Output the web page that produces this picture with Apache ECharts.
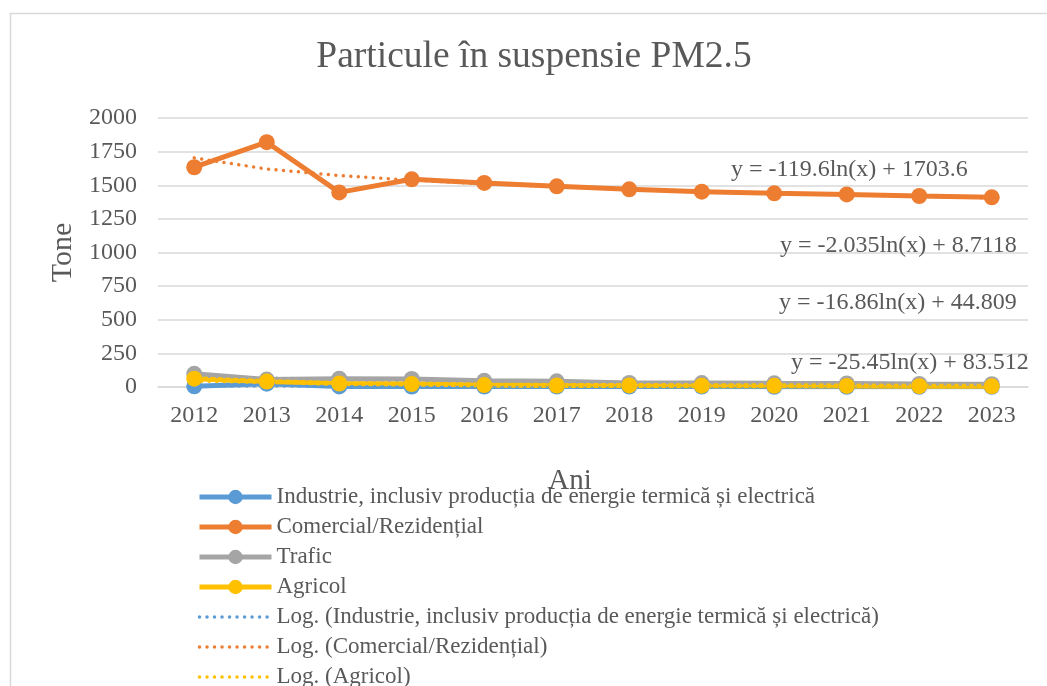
<!DOCTYPE html>
<html>
<head>
<meta charset="utf-8">
<script src="https://cdn.jsdelivr.net/npm/echarts@6/dist/echarts.min.js"></script>
<style>
  html, body { margin: 0; padding: 0; background: #ffffff; }
  #chart { width: 1047px; height: 686px; }
</style>
</head>
<body>
<div id="chart"></div>
<script>
// Emisii de particule PM2.5 pe sectoare (tone/an)
const years = ['2012', '2013', '2014', '2015', '2016', '2017', '2018', '2019', '2020', '2021', '2022', '2023'];
const industrie = [5, 25, 4, 3, 3, 3, 3, 3, 2, 2, 2, 2];
const comercial = [1634, 1820, 1447, 1544, 1517, 1492, 1470, 1452, 1440, 1432, 1420, 1410];
const trafic = [98, 55, 62, 60, 46, 42, 30, 29, 27, 26, 23, 21];
const agricol = [62, 40, 26, 22, 14, 11, 12, 10, 9, 8, 6, 5];

const seriesNames = [
  'Industrie, inclusiv producția de energie termică și electrică',
  'Comercial/Rezidențial',
  'Trafic',
  'Agricol'
];
const seriesColors = ['#5B9BD5', '#ED7D31', '#A5A5A5', '#FFC000'];

// Tendințe logaritmice y = a·ln(x) + b  (x = 1 pentru 2012)
const trendSlope = [-2.035, -119.6, -25.45, -16.86];
const trendIntercept = [8.7118, 1703.6, 83.512, 44.809];
const trendDecimals = [[3, 4], [1, 1], [2, 3], [2, 3]];
const trendLegendOrder = [0, 1, 3, 2];

const FONT = '"Liberation Serif", "Times New Roman", serif';
const TEXT = '#595959';

const values = [industrie, comercial, trafic, agricol];

function trendData(i) {
  return years.map((_, k) => trendIntercept[i] + trendSlope[i] * Math.log(k + 1));
}
function trendLabel(i) {
  const [da, db] = trendDecimals[i];
  return 'y = ' + trendSlope[i].toFixed(da) + 'ln(x) + ' + trendIntercept[i].toFixed(db);
}

const series = [];
const legendData = [];
values.forEach((arr, i) => {
  series.push({
    name: seriesNames[i],
    type: 'line',
    data: arr,
    symbol: 'circle',
    symbolSize: 16,
    color: seriesColors[i],
    lineStyle: { width: 5, color: seriesColors[i] },
    itemStyle: { color: seriesColors[i] },
    emphasis: { disabled: true },
    animation: false
  });
  legendData.push({
    name: seriesNames[i],
    itemStyle: { color: seriesColors[i] },
    lineStyle: { color: seriesColors[i], width: 5 }
  });
});
trendLegendOrder.forEach(i => {
  const name = 'Log. (' + seriesNames[i] + ')';
  series.push({
    name: name,
    type: 'line',
    data: trendData(i),
    symbol: 'none',
    color: seriesColors[i],
    lineStyle: { width: 3.5, color: seriesColors[i], type: [0.01, 7.5], cap: 'round' },
    emphasis: { disabled: true },
    animation: false,
    z: 3
  });
  legendData.push({
    name: name,
    itemStyle: { opacity: 0 },
    lineStyle: { color: seriesColors[i], width: 3.5, type: [0.01, 7.5], cap: 'round' }
  });
});

// Poziția etichetelor cu ecuații
const eqPos = [
  { i: 1, x: 731, y: 170 },
  { i: 0, x: 780, y: 246 },
  { i: 3, x: 779, y: 303 },
  { i: 2, x: 791, y: 363 }
];

const chart = echarts.init(document.getElementById('chart'), null, { renderer: 'canvas' });
chart.setOption({
  backgroundColor: '#ffffff',
  animation: false,
  title: {
    text: 'Particule în suspensie PM2.5',
    left: 529,
    top: 33,
    textAlign: 'center',
    textStyle: { fontFamily: FONT, fontSize: 37.5, fontWeight: 'normal', color: TEXT }
  },
  grid: { left: 158, right: 19, top: 118, bottom: 299, containLabel: false },
  xAxis: {
    type: 'category',
    data: years,
    boundaryGap: true,
    name: 'Ani',
    nameLocation: 'middle',
    nameGap: 80,
    nameTextStyle: { fontFamily: FONT, fontSize: 29, color: TEXT, padding: [0, 46, 0, 0] },
    axisLine: { lineStyle: { color: '#D9D9D9', width: 1.5 } },
    axisTick: { show: false },
    axisLabel: { fontFamily: FONT, fontSize: 24, color: TEXT, margin: 17 },
    splitLine: { show: false }
  },
  yAxis: {
    type: 'value',
    min: 0,
    max: 2000,
    interval: 250,
    name: 'Tone',
    nameLocation: 'middle',
    nameGap: 80,
    nameTextStyle: { fontFamily: FONT, fontSize: 30, color: TEXT },
    axisLine: { show: false },
    axisTick: { show: false },
    axisLabel: { fontFamily: FONT, fontSize: 24, color: TEXT, margin: 21, formatter: v => String(v) },
    splitLine: { lineStyle: { color: '#D9D9D9', width: 1.5 } }
  },
  legend: {
    orient: 'vertical',
    left: 197,
    top: 485,
    height: 300,
    padding: 0,
    itemWidth: 72,
    itemHeight: 18,
    itemGap: 6,
    selectedMode: false,
    textStyle: { fontFamily: FONT, fontSize: 23, color: TEXT, lineHeight: 24 },
    data: legendData
  },
  graphic: [
    {
      type: 'rect',
      left: 8, top: 11,
      shape: { width: 1100, height: 700 },
      style: { fill: 'none', stroke: '#D9D9D9', lineWidth: 1.5 },
      silent: true, z: -10
    }
  ].concat(eqPos.map(p => ({
    type: 'text',
    x: p.x,
    y: p.y,
    style: {
      text: trendLabel(p.i),
      font: '24px ' + FONT,
      fill: TEXT,
      verticalAlign: 'middle'
    },
    silent: true,
    z: 10
  }))),
  series: series
});
</script>
</body>
</html>
